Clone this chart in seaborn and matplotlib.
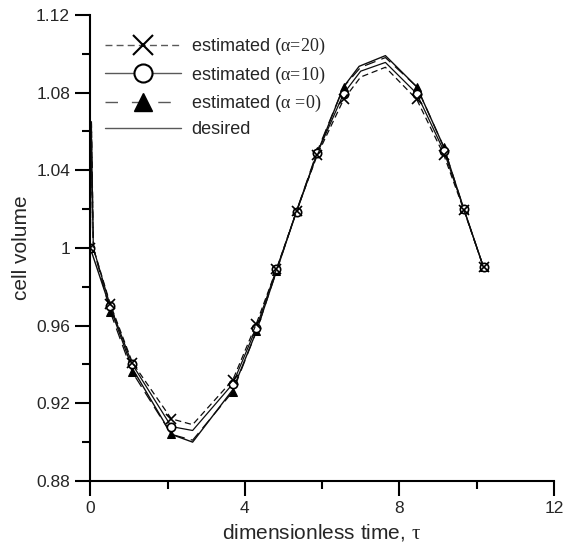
import numpy as np
import pandas as pd
import matplotlib
matplotlib.use("Agg")
import matplotlib.pyplot as plt
import matplotlib.ticker as ticker
from matplotlib.lines import Line2D
import seaborn as sns

# time grid of the estimated runs (includes the short start-up spike)
t_est = [0, 0.03, 0.08, 0.52, 1.09, 2.1, 2.65, 3.69, 4.30, 4.82, 5.34, 5.88,
         6.56, 7.0, 7.64, 8.45, 9.15, 9.67, 10.18]
est_a20 = [1.0, 1.066, 1.0, 0.971, 0.941, 0.912, 0.909, 0.932, 0.961, 0.989,
           1.019, 1.048, 1.0765, 1.088, 1.093, 1.0765, 1.048, 1.0195, 0.990]
est_a10 = [1.0, 1.060, 1.0, 0.970, 0.940, 0.908, 0.906, 0.930, 0.959, 0.989,
           1.0185, 1.049, 1.0795, 1.091, 1.0955, 1.0795, 1.050, 1.020, 0.990]
est_a0 = [1.0, 1.064, 1.0, 0.967, 0.936, 0.904, 0.901, 0.926, 0.957, 0.988,
          1.019, 1.050, 1.083, 1.093, 1.098, 1.083, 1.052, 1.020, 0.990]
marker_idx = [0, 3, 4, 5, 7, 8, 9, 10, 11, 12, 15, 16, 17, 18]

t_des = [0, 0.52, 1.09, 2.1, 2.65, 3.69, 4.30, 4.82, 5.34, 5.88, 6.56, 6.96,
         7.64, 8.45, 9.15, 9.67, 10.18]
desired = [1.0, 0.969, 0.938, 0.904, 0.900, 0.927, 0.957, 0.988, 1.019, 1.049,
           1.083, 1.0935, 1.099, 1.083, 1.052, 1.020, 0.990]

labels = [r"estimated ($\alpha\!=\!20)$", r"estimated ($\alpha\!=\!10)$",
          r"estimated ($\alpha\,=\!0)$", "desired"]

sns.set_theme(style="ticks")
plt.rcParams["font.family"] = ["Liberation Sans", "DejaVu Sans"]
plt.rcParams["mathtext.fontset"] = "custom"
plt.rcParams["mathtext.rm"] = "Liberation Serif"
plt.rcParams["mathtext.it"] = "Liberation Serif"

fig, ax = plt.subplots(figsize=(5.64, 5.5), dpi=100)
fig.subplots_adjust(left=0.16, right=0.982, bottom=0.1255, top=0.973)

lc = "0.05"
sns.lineplot(x=t_des, y=desired, ax=ax, color=lc, linewidth=1.0,
             estimator=None, sort=False)
sns.lineplot(x=t_est, y=est_a0, ax=ax, color=lc, linewidth=0.9, dashes=(9, 5),
             marker="^", markersize=6, markerfacecolor="black",
             markeredgecolor="black", markevery=marker_idx,
             estimator=None, sort=False)
sns.lineplot(x=t_est, y=est_a10, ax=ax, color=lc, linewidth=0.9,
             marker="o", markersize=6, markerfacecolor="white",
             markeredgecolor="black", markeredgewidth=1.2,
             markevery=marker_idx, estimator=None, sort=False)
sns.lineplot(x=t_est, y=est_a20, ax=ax, color=lc, linewidth=0.9, dashes=(5, 3),
             marker="x", markersize=7, markeredgecolor="black",
             markeredgewidth=1.2, markevery=marker_idx,
             estimator=None, sort=False)

ax.set_xlim(0, 12)
ax.set_ylim(0.88, 1.12)
ax.xaxis.set_major_locator(ticker.MultipleLocator(4))
ax.xaxis.set_minor_locator(ticker.MultipleLocator(2))
ax.yaxis.set_major_locator(ticker.MultipleLocator(0.04))
ax.yaxis.set_minor_locator(ticker.MultipleLocator(0.02))
ax.yaxis.set_major_formatter(ticker.FuncFormatter(lambda v, p: "%g" % round(v, 2)))
ax.xaxis.set_major_formatter(ticker.FuncFormatter(lambda v, p: "%g" % v))

sns.despine(ax=ax)
for s in ["left", "bottom"]:
    ax.spines[s].set_linewidth(1.5)
    ax.spines[s].set_color("black")
ax.tick_params(which="major", length=11, width=1.5, labelsize=12.5,
               color="black", direction="out")
ax.tick_params(which="minor", length=6, width=1.5, color="black",
               direction="out")

ax.set_xlabel(r"dimensionless time, $\tau$", fontsize=15)
ax.set_ylabel("cell volume", fontsize=15)

handles = [
    Line2D([], [], color="0.35", linewidth=1.0, dashes=(5, 3), marker="x",
           markersize=15, markeredgecolor="black", markeredgewidth=1.5),
    Line2D([], [], color="0.35", linewidth=1.0, marker="o", markersize=13,
           markerfacecolor="white", markeredgecolor="black",
           markeredgewidth=1.5),
    Line2D([], [], color="0.35", linewidth=1.0, dashes=(9, 10), marker="^",
           markersize=13, markerfacecolor="black", markeredgecolor="black"),
    Line2D([], [], color="0.35", linewidth=1.0),
]
ax.legend(handles, labels, loc="upper left", bbox_to_anchor=(0.0, 0.985),
          frameon=False, fontsize=13, handlelength=4.2, handletextpad=0.6,
          labelspacing=0.4, numpoints=1, borderaxespad=0.4)

fig.savefig("out.png", dpi=100)
